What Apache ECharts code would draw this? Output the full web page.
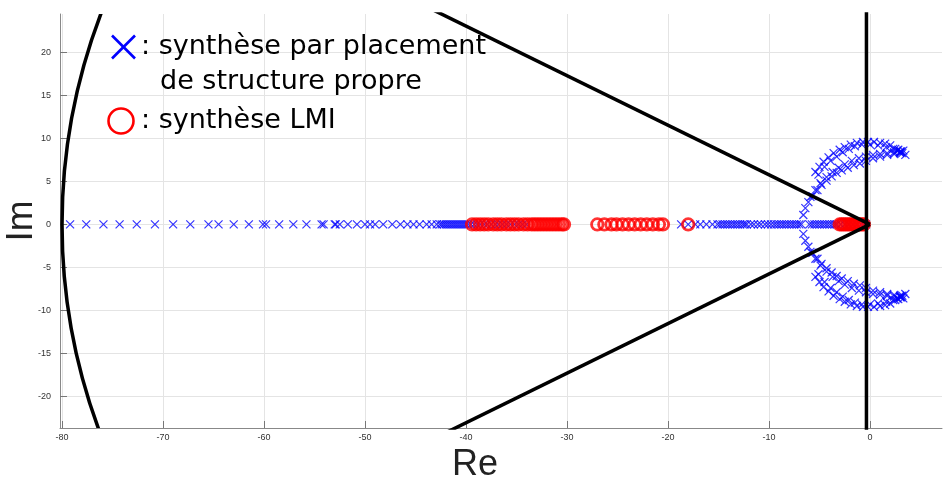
<!DOCTYPE html>
<html>
<head>
<meta charset="utf-8">
<script src="https://cdn.jsdelivr.net/npm/echarts@6/dist/echarts.min.js"></script>
<style>
html,body{margin:0;padding:0;background:#fff;}
#chart{width:943px;height:479px;}
</style>
</head>
<body>
<div id="chart"></div>
<script>
// ---- axis ranges and ticks ----
const xRange = [-80.2, 7.13];
const yRange = [-23.7, 24.5];
const xTicks = [-80, -70, -60, -50, -40, -30, -20, -10, 0];
const yTicks = [-20, -15, -10, -5, 0, 5, 10, 15, 20];

// ---- legend texts ----
const legendBlueLines = [': synthèse par placement', 'de structure propre'];
const legendRed = ': synthèse LMI';
const xTitle = 'Re';
const yTitle = 'Im';

// ---- blue poles on the real axis (synthèse par placement de structure propre) ----
const blueReal = [
  -79.2, -77.6, -75.9, -74.3, -72.6, -70.8, -69.0, -67.3, -65.5, -64.5, -63.0, -61.5,
  -60.1, -59.8, -58.5, -57.1, -55.8, -54.3, -54.1, -53.0,
  -52.9, -52.5, -51.7, -50.8, -50.0, -49.5, -49.0, -48.2, -47.3, -46.5, -45.8, -45.2,
  -44.6, -43.9, -43.4, -42.9,
  -42.6, -42.4, -42.2, -42.0, -41.8, -41.6, -41.4, -41.2, -41.0, -40.8, -40.6, -40.4,
  -40.2, -40.0, -39.8, -39.5, -39.2, -38.9, -38.6, -38.2, -37.9, -37.5, -37.1, -36.8,
  -36.4, -36.0, -35.6, -35.2, -34.8, -34.4, -34.0,
  -18.7, -18.0, -17.3, -16.8, -16.2, -15.6,
  -15.1, -14.85, -14.6, -14.35, -14.1, -13.85, -13.6, -13.35, -13.1, -12.85, -12.6, -12.4, -12.2,
  -11.8, -11.5, -11.1, -10.8, -10.4, -10.1, -9.8,
  -9.5, -9.25, -9.0, -8.75, -8.5, -8.25, -8.0, -7.75, -7.5, -7.25, -7.0, -6.8,
  -6.0, -5.75, -5.5, -5.25, -5.0, -4.75, -4.5, -4.25, -4.0, -3.75, -3.5,
  -3.3, -2.9, -2.5, -2.1, -1.7, -1.3, -0.9, -0.6, -0.4
];

// ---- blue complex poles, upper half [Re, Im]; the lower half is their conjugate ----
const blueOuterArc = [
  [-5.4, 6.1], [-5.0, 6.7], [-4.6, 7.3], [-4.1, 7.8], [-3.6, 8.3], [-3.0, 8.7],
  [-2.5, 9.0], [-1.9, 9.3], [-1.3, 9.5], [-0.7, 9.6], [-0.2, 9.6], [0.4, 9.6],
  [1.0, 9.5], [1.5, 9.4], [2.0, 9.2], [2.5, 8.8], [3.0, 8.4], [3.5, 8.1]
];
const blueOuterArc2 = [
  [-5.1, 5.8], [-4.5, 6.7], [-3.9, 7.4], [-3.3, 7.9], [-2.7, 8.4], [-2.1, 8.8],
  [-1.5, 9.1], [-0.8, 9.3], [0.0, 9.3], [0.8, 9.2], [1.6, 9.0], [2.3, 8.8], [3.0, 8.5],
  [2.7, 8.6], [3.2, 8.3]
];
const blueInnerArc = [
  [-6.6, 1.1], [-6.4, 1.9], [-6.1, 2.6], [-5.7, 3.3], [-5.2, 4.0], [-4.8, 4.6],
  [-4.3, 5.1], [-3.8, 5.6], [-3.3, 6.0], [-2.8, 6.3], [-2.2, 6.6], [-1.6, 6.9],
  [-1.0, 7.1], [-0.4, 7.4], [0.3, 7.7], [1.0, 7.9], [1.7, 8.1], [2.4, 8.2], [3.0, 8.3]
];
const blueInnerArc2 = [
  [-5.9, 3.2], [-5.4, 4.0], [-4.9, 4.8], [-4.3, 5.5], [-3.7, 6.1], [-3.1, 6.6],
  [-2.5, 7.0], [-1.8, 7.4], [-1.1, 7.7], [-0.4, 7.9], [0.3, 8.1], [1.0, 8.2],
  [1.7, 8.3], [2.4, 8.4], [3.1, 8.5], [2.8, 8.7], [3.3, 8.6]
];

// ---- red poles on the real axis (synthèse LMI) ----
const redReal = [
  -39.4, -39.0, -38.6, -38.2, -37.8, -37.3, -36.9, -36.5, -36.0, -35.6, -35.2, -34.8,
  -34.3, -33.9, -33.5, -33.2, -32.9, -32.6, -32.3, -32.0, -31.7, -31.4, -31.1, -30.8,
  -30.5, -30.3,
  -27.0, -26.3, -25.6, -25.1, -24.5, -23.9, -23.3, -22.7, -22.1, -21.5, -20.9, -20.5,
  -18.0,
  -3.0, -2.8, -2.6, -2.4, -2.2, -2.0, -1.8, -1.6, -1.4, -1.2, -1.0, -0.8, -0.6
];

// ---- pole-placement region boundaries ----
const regionRadius = 80;            // |s| < 80
const regionCenter = [0, 0];
const coneApex = [0, 0];
const coneUpperEnd = [-60, 34.64];  // half-angle 30 deg
const coneLowerEnd = [-60, -34.64];
const decayAbscissa = -0.35;        // Re(s) < -0.35
const decayLine = [[decayAbscissa, -30], [decayAbscissa, 30]];

// ---- build ----
const conj = arr => arr.map(p => [p[0], -p[1]]);
const blueArcs = [].concat(blueOuterArc, blueOuterArc2, blueInnerArc, blueInnerArc2);
const blueData = blueReal.map(r => [r, 0]).concat(blueArcs, conj(blueArcs));
const redData = redReal.map(r => [r, 0]);

const chart = echarts.init(document.getElementById('chart'), null, {renderer: 'canvas'});
const crossPath = 'path://M0,0L10,10M10,0L0,10';
const blackLine = {color: '#000', width: 3.5};

chart.setOption({
  animation: false,
  backgroundColor: '#fff',
  grid: {left: 60, right: 1, top: 14, bottom: 51, containLabel: false, outerBoundsMode: 'none'},
  xAxis: {
    type: 'value', min: xRange[0], max: xRange[1],
    name: xTitle, nameLocation: 'middle', nameGap: 9,
    nameTextStyle: {fontSize: 36, color: '#222', fontFamily: 'Liberation Sans', padding: [0, 52, 0, 0]},
    axisLine: {show: true, onZero: false, lineStyle: {color: '#888', width: 1}},
    axisTick: {show: true, inside: true, length: 7, customValues: xTicks, lineStyle: {color: '#777'}},
    axisLabel: {show: true, customValues: xTicks, fontSize: 9, color: '#333', margin: 5, fontFamily: 'Liberation Sans'},
    splitLine: {show: true, lineStyle: {color: '#e4e4e4', width: 1}}
  },
  yAxis: {
    type: 'value', min: yRange[0], max: yRange[1],
    name: yTitle, nameLocation: 'middle', nameGap: 20, nameRotate: 90, nameMoveOverlap: false,
    nameTextStyle: {fontSize: 37, color: '#222', fontFamily: 'Liberation Sans'},
    axisLine: {show: true, onZero: false, lineStyle: {color: '#888', width: 1}},
    axisTick: {show: true, inside: true, length: 7, customValues: yTicks, lineStyle: {color: '#777'}},
    axisLabel: {show: true, customValues: yTicks, fontSize: 9, color: '#333', margin: 9, fontFamily: 'Liberation Sans'},
    splitLine: {show: true, lineStyle: {color: '#e4e4e4', width: 1}}
  },
  series: [
    {
      type: 'scatter', name: 'placement', data: blueData, z: 3,
      symbol: crossPath, symbolSize: 8,
      itemStyle: {color: 'transparent', borderColor: '#0000ff', borderWidth: 1.2},
      emphasis: {disabled: true}
    },
    {
      type: 'scatter', name: 'LMI', data: redData, z: 4,
      symbol: 'circle', symbolSize: 11.5,
      itemStyle: {color: 'transparent', borderColor: '#ff0000', borderWidth: 2.8},
      emphasis: {disabled: true}
    },
    {
      type: 'custom', name: 'radius', z: 5, clip: true,
      data: [[regionCenter[0], regionCenter[1], regionRadius]],
      renderItem: function (params, api) {
        const c = api.coord([api.value(0), api.value(1)]);
        const s = api.size([api.value(2), api.value(2)]);
        const rx = s[0], ry = s[1];
        const d = 'M' + (c[0] - rx) + ',' + c[1] +
          ' A' + rx + ',' + ry + ' 0 1 0 ' + (c[0] + rx) + ',' + c[1] +
          ' A' + rx + ',' + ry + ' 0 1 0 ' + (c[0] - rx) + ',' + c[1] + ' Z';
        return {
          type: 'path',
          shape: {pathData: d},
          style: {fill: 'none', stroke: '#000', lineWidth: 3.5}
        };
      }
    },
    {
      type: 'line', name: 'cone+', data: [coneApex, coneUpperEnd], z: 5, clip: true,
      symbol: 'none', lineStyle: blackLine
    },
    {
      type: 'line', name: 'cone-', data: [coneApex, coneLowerEnd], z: 5, clip: true,
      symbol: 'none', lineStyle: blackLine
    },
    {
      type: 'line', name: 'decay', data: decayLine, z: 5, clip: true,
      symbol: 'none', lineStyle: blackLine
    }
  ],
  graphic: [
    {type: 'line', z: 10, shape: {x1: 112, y1: 35.5, x2: 135, y2: 58.5},
     style: {stroke: '#0000ff', lineWidth: 2.6}},
    {type: 'line', z: 10, shape: {x1: 135, y1: 35.5, x2: 112, y2: 58.5},
     style: {stroke: '#0000ff', lineWidth: 2.6}},
    {type: 'circle', z: 10, shape: {cx: 121, cy: 121, r: 12.5},
     style: {fill: 'none', stroke: '#ff0000', lineWidth: 2.6}},
    {type: 'text', z: 10, x: 141, y: 47,
     style: {text: legendBlueLines[0], font: '27px "DejaVu Sans"', fill: '#000', align: 'left', verticalAlign: 'middle'}},
    {type: 'text', z: 10, x: 160, y: 82,
     style: {text: legendBlueLines[1], font: '27px "DejaVu Sans"', fill: '#000', align: 'left', verticalAlign: 'middle'}},
    {type: 'text', z: 10, x: 141, y: 121,
     style: {text: legendRed, font: '27px "DejaVu Sans"', fill: '#000', align: 'left', verticalAlign: 'middle'}}
  ]
});
</script>
</body>
</html>
